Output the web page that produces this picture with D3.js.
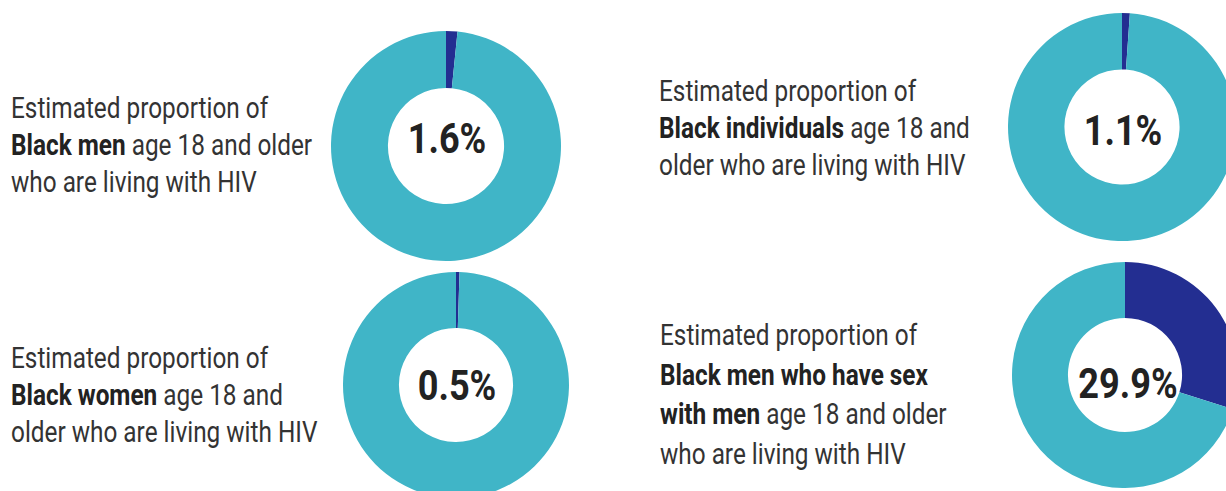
<!DOCTYPE html>
<html>
<head>
<meta charset="utf-8">
<script src="https://cdn.jsdelivr.net/npm/d3@7"></script>
<style>
  html, body { margin: 0; padding: 0; background: #fff; }
  svg { display: block; }
</style>
</head>
<body>
<script>
// values (percent living with HIV)
const groups = ['Black men', 'Black individuals', 'Black women', 'Black men who have sex with men'];
const shares = [1.6, 1.1, 0.5, 29.9];
const shareLabels = ['1.6%', '1.1%', '0.5%', '29.9%'];

// description lines, each a list of [text, bold]
const descriptions = [
  [[['Estimated proportion of', false]],
   [['Black men', true], [' age 18 and older', false]],
   [['who are living with HIV', false]]],
  [[['Estimated proportion of', false]],
   [['Black individuals', true], [' age 18 and', false]],
   [['older who are living with HIV', false]]],
  [[['Estimated proportion of', false]],
   [['Black women', true], [' age 18 and', false]],
   [['older who are living with HIV', false]]],
  [[['Estimated proportion of', false]],
   [['Black men who have sex', true]],
   [['with men', true], [' age 18 and older', false]],
   [['who are living with HIV', false]]]
];

// layout of the four panels
const layout = [
  {cx: 446, cy: 146, r: 115, tx: 11, ty: 118, lh: 37, py: 153},
  {cx: 1122, cy: 127, r: 114, tx: 659, ty: 101, lh: 37, py: 145},
  {cx: 456, cy: 385, r: 113, tx: 11, ty: 368, lh: 37, py: 400},
  {cx: 1125, cy: 375, r: 113, tx: 660, ty: 345, lh: 39.5, py: 398}
];

const width = 1226, height = 491;
const teal = '#40b5c7', navy = '#232e91';

const svg = d3.select('body').append('svg')
  .attr('width', width)
  .attr('height', height);

const pie = d3.pie().sort(null).value(d => d);
const color = d3.scaleOrdinal().domain([0, 1]).range([navy, teal]);

groups.forEach((g, i) => {
  const L = layout[i];
  const arc = d3.arc().innerRadius(L.r * 0.505).outerRadius(L.r);

  const panel = svg.append('g').attr('class', 'panel').attr('data-group', g);

  panel.append('g')
    .attr('transform', `translate(${L.cx},${L.cy})`)
    .selectAll('path')
    .data(pie([shares[i], 100 - shares[i]]))
    .join('path')
    .attr('d', arc)
    .attr('fill', (d, j) => color(j));

  panel.append('text')
    .attr('text-anchor', 'middle')
    .attr('font-family', 'Roboto, sans-serif')
    .attr('font-weight', 700)
    .attr('font-size', 42)
    .attr('fill', '#222')
    .attr('transform', `translate(${L.cx + (i === 3 ? 3 : 1)},${L.py}) scale(0.86,1)`)
    .text(shareLabels[i]);

  // description text, condensed to look like the original face
  descriptions[i].forEach((line, k) => {
    const t = panel.append('text')
      .attr('font-family', 'Roboto, sans-serif')
      .attr('font-size', 29)
      .attr('fill', '#333')
      .attr('transform', `translate(${L.tx},${L.ty + k * L.lh}) scale(0.84,1)`);
    line.forEach(seg => {
      t.append('tspan')
        .attr('font-weight', seg[1] ? 700 : 400)
        .attr('fill', seg[1] ? '#222' : '#333')
        .text(seg[0]);
    });
  });
});
</script>
</body>
</html>
